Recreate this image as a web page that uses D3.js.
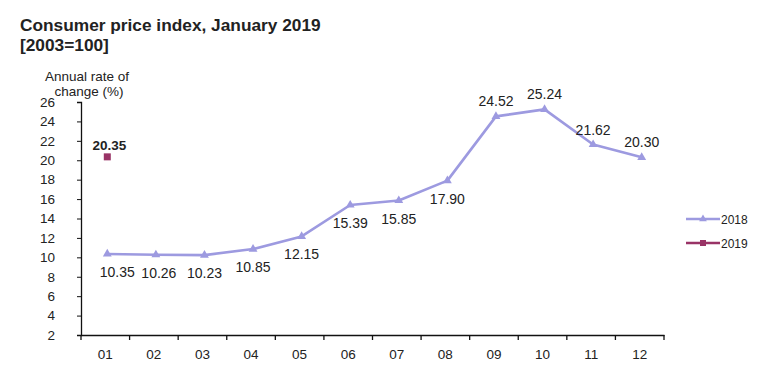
<!DOCTYPE html>
<html>
<head>
<meta charset="utf-8">
<script src="https://cdn.jsdelivr.net/npm/d3@7"></script>
<style>
  body { margin: 0; background: #fff; }
  svg { font-family: "Liberation Sans", Arial, sans-serif; }
</style>
</head>
<body>
<figure id="cpi" style="margin:0"></figure>
<script>
const months = ["01", "02", "03", "04", "05", "06", "07", "08", "09", "10", "11", "12"];
const values2018 = [10.35, 10.26, 10.23, 10.85, 12.15, 15.39, 15.85, 17.90, 24.52, 25.24, 21.62, 20.30];
const months2019 = ["01"];
const values2019 = [20.35];
const yTicks = [2, 4, 6, 8, 10, 12, 14, 16, 18, 20, 22, 24, 26];

const width = 770;
const height = 385;
const margin = { left: 81, right: 106, top: 102, bottom: 52 };

const svg = d3.select("figure#cpi")
  .append("svg")
  .attr("width", width)
  .attr("height", height);

// band scale for the month slots, points sit in the middle
const x = d3.scaleBand()
  .domain(months)
  .range([margin.left, width - margin.right]);
const cx = m => x(m) + x.bandwidth() / 2 + 2;

const y = d3.scaleLinear()
  .domain([2, 26])
  .range([height - margin.bottom + 2, margin.top]);

// titles
svg.append("text")
  .attr("x", 20).attr("y", 31)
  .style("font-size", "17.3px").style("font-weight", "bold")
  .attr("fill", "#222")
  .text("Consumer price index, January 2019");
svg.append("text")
  .attr("x", 20).attr("y", 51)
  .style("font-size", "17.3px").style("font-weight", "bold")
  .attr("fill", "#222")
  .text("[2003=100]");

svg.append("text")
  .attr("x", 87).attr("y", 81)
  .attr("text-anchor", "middle")
  .style("font-size", "13.5px").attr("fill", "#222")
  .text("Annual rate of");
svg.append("text")
  .attr("x", 89).attr("y", 96)
  .attr("text-anchor", "middle")
  .style("font-size", "13.5px").attr("fill", "#222")
  .text("change (%)");

// axes
const yAxis = svg.append("g")
  .attr("transform", `translate(${margin.left},0)`)
  .call(d3.axisLeft(y).tickValues(yTicks).tickSize(4).tickPadding(22));
yAxis.select(".domain").attr("stroke", "#111").attr("stroke-width", 1.3);
yAxis.selectAll(".tick line").attr("stroke", "#111");
yAxis.selectAll("text").style("font-size", "13.5px").attr("fill", "#222")
  .style("font-family", "\"Liberation Sans\", Arial, sans-serif");

const xAxis = svg.append("g")
  .attr("transform", `translate(0,${y(2)})`)
  .call(d3.axisBottom(x).tickSize(0).tickPadding(14));
xAxis.select(".domain").attr("stroke", "#111").attr("stroke-width", 1.3);
xAxis.selectAll("text").style("font-size", "13.5px").attr("fill", "#222")
  .style("font-family", "\"Liberation Sans\", Arial, sans-serif");
// boundary ticks between months
xAxis.selectAll(".sep")
  .data(months.concat(["end"]))
  .enter()
  .append("line")
  .attr("x1", (d, i) => margin.left + i * x.step())
  .attr("x2", (d, i) => margin.left + i * x.step())
  .attr("y1", 0).attr("y2", 5)
  .attr("stroke", "#111").attr("stroke-width", 1.3);

// 2018 series
const c2018 = "#9d9ae0";
const c2019 = "#993366";
const line = d3.line()
  .x((d, i) => cx(months[i]))
  .y(d => y(d));

svg.append("path")
  .datum(values2018)
  .attr("d", line)
  .attr("fill", "none")
  .attr("stroke", c2018)
  .attr("stroke-width", 2.6)
  .attr("stroke-linejoin", "round");

const tri = d3.symbol().type(d3.symbolTriangle).size(34);
svg.selectAll(".m2018")
  .data(values2018)
  .enter()
  .append("path")
  .attr("d", tri)
  .attr("transform", (d, i) => `translate(${cx(months[i])},${y(d)})`)
  .attr("fill", c2018);

// labels: below up to 08, above afterwards
const labelDx = { "01": 10, "02": 3 };
svg.selectAll(".l2018")
  .data(values2018)
  .enter()
  .append("text")
  .attr("x", (d, i) => cx(months[i]) + (labelDx[months[i]] || 0))
  .attr("y", (d, i) => i < 8 ? y(d) + 23 : y(d) - 10)
  .attr("text-anchor", "middle")
  .style("font-size", "14px").attr("fill", "#222")
  .text(d => d.toFixed(2));

// 2019 series
svg.selectAll(".m2019")
  .data(values2019)
  .enter()
  .append("rect")
  .attr("x", (d, i) => cx(months2019[i]) - 3.5)
  .attr("y", d => y(d) - 3.5)
  .attr("width", 7).attr("height", 7)
  .attr("fill", c2019);
svg.selectAll(".l2019")
  .data(values2019)
  .enter()
  .append("text")
  .attr("x", (d, i) => cx(months2019[i]) + 2)
  .attr("y", d => y(d) - 7)
  .attr("text-anchor", "middle")
  .style("font-size", "13.5px").style("font-weight", "bold").attr("fill", "#222")
  .text(d => d.toFixed(2));

// legend
const legend = [
  { name: "2018", color: c2018, shape: "tri" },
  { name: "2019", color: c2019, shape: "sq" }
];
const lg = svg.selectAll(".legend")
  .data(legend)
  .enter()
  .append("g")
  .attr("transform", (d, i) => `translate(686,${219 + i * 24})`);
lg.append("line")
  .attr("x1", 0).attr("x2", 34)
  .attr("stroke", d => d.color).attr("stroke-width", 2.4);
lg.filter(d => d.shape === "tri").append("path")
  .attr("d", d3.symbol().type(d3.symbolTriangle).size(26))
  .attr("transform", "translate(17,0)")
  .attr("fill", d => d.color);
lg.filter(d => d.shape === "sq").append("rect")
  .attr("x", 14).attr("y", -3).attr("width", 6).attr("height", 6)
  .attr("fill", d => d.color);
lg.append("text")
  .attr("x", 35).attr("y", 4.5)
  .style("font-size", "12px").attr("fill", "#222")
  .text(d => d.name);
</script>
</body>
</html>
